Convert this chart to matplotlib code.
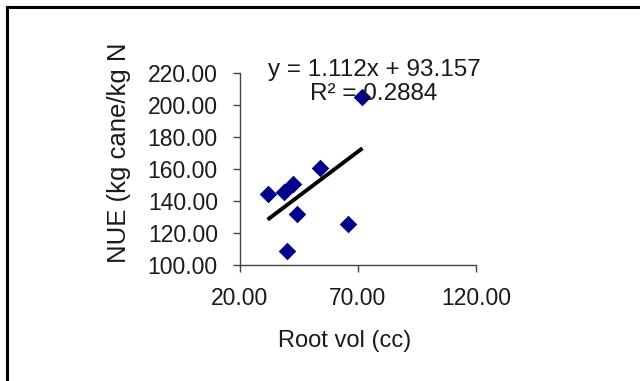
import matplotlib
matplotlib.use("Agg")
import matplotlib.pyplot as plt
from matplotlib.lines import Line2D
import numpy as np

plt.rcParams['font.family'] = ['Liberation Sans', 'DejaVu Sans']

root_vol = [31.7, 38.8, 42.6, 40.1, 44.3, 53.7, 65.7, 71.9]
nue = [144.4, 145.9, 150.7, 108.8, 131.7, 160.9, 125.7, 205.3]
slope = 1.112
intercept = 93.157
r2 = 0.2884
x_ticks = [20, 70, 120]
y_ticks = [100, 120, 140, 160, 180, 200, 220]

W, H = 640, 381
fig = plt.figure(figsize=(W / 100, H / 100), dpi=100)
ax = fig.add_axes([240 / W, 1 - 265 / H, (476 - 240) / W, (265 - 73.3) / H])

ax.scatter(root_vol, nue, marker='D', s=80, color='#00008B', zorder=3, linewidths=0)
xs = np.array([min(root_vol), max(root_vol)])
ax.plot(xs, slope * xs + intercept, color='black', lw=2.8, zorder=2, solid_capstyle='butt')

ax.set_xlim(20, 120)
ax.set_ylim(100, 220)
ax.set_xticks(x_ticks)
ax.set_yticks(y_ticks)
ax.set_xticklabels([f"{v:.2f}" for v in x_ticks])
ax.set_yticklabels([f"{v:.2f}" for v in y_ticks])
for s in ['top', 'right']:
    ax.spines[s].set_visible(False)
for s in ['left', 'bottom']:
    ax.spines[s].set_color('#444444')
    ax.spines[s].set_linewidth(1.0)
ax.tick_params(axis='both', direction='out', length=5, width=1.0, color='#444444',
               labelsize=16.5, labelcolor='#1a1a1a')
ax.tick_params(axis='y', pad=11)
ax.tick_params(axis='x', pad=11)

fig.text(374 / W, 1 - 70 / H, f"y = {slope}x + {intercept}", ha='center', va='center',
         fontsize=17.5, color='#1a1a1a')
fig.text(374 / W, 1 - 93.5 / H, f"R² = {r2}", ha='center', va='center',
         fontsize=17.5, color='#1a1a1a')
fig.text(345 / W, 1 - 341 / H, "Root vol (cc)", ha='center', va='center',
         fontsize=17, color='#1a1a1a')
fig.text(119 / W, 1 - 153 / H, "NUE (kg cane/kg N", ha='center', va='center',
         rotation=90, fontsize=18.5, color='#1a1a1a')

fig.add_artist(Line2D([7 / W, 7 / W], [0, 1 - 7 / H], color='black', lw=2.2,
                      transform=fig.transFigure))
fig.add_artist(Line2D([7 / W, 1], [1 - 7 / H, 1 - 7 / H], color='black', lw=2.2,
                      transform=fig.transFigure))

fig.savefig("out.png", dpi=100)
